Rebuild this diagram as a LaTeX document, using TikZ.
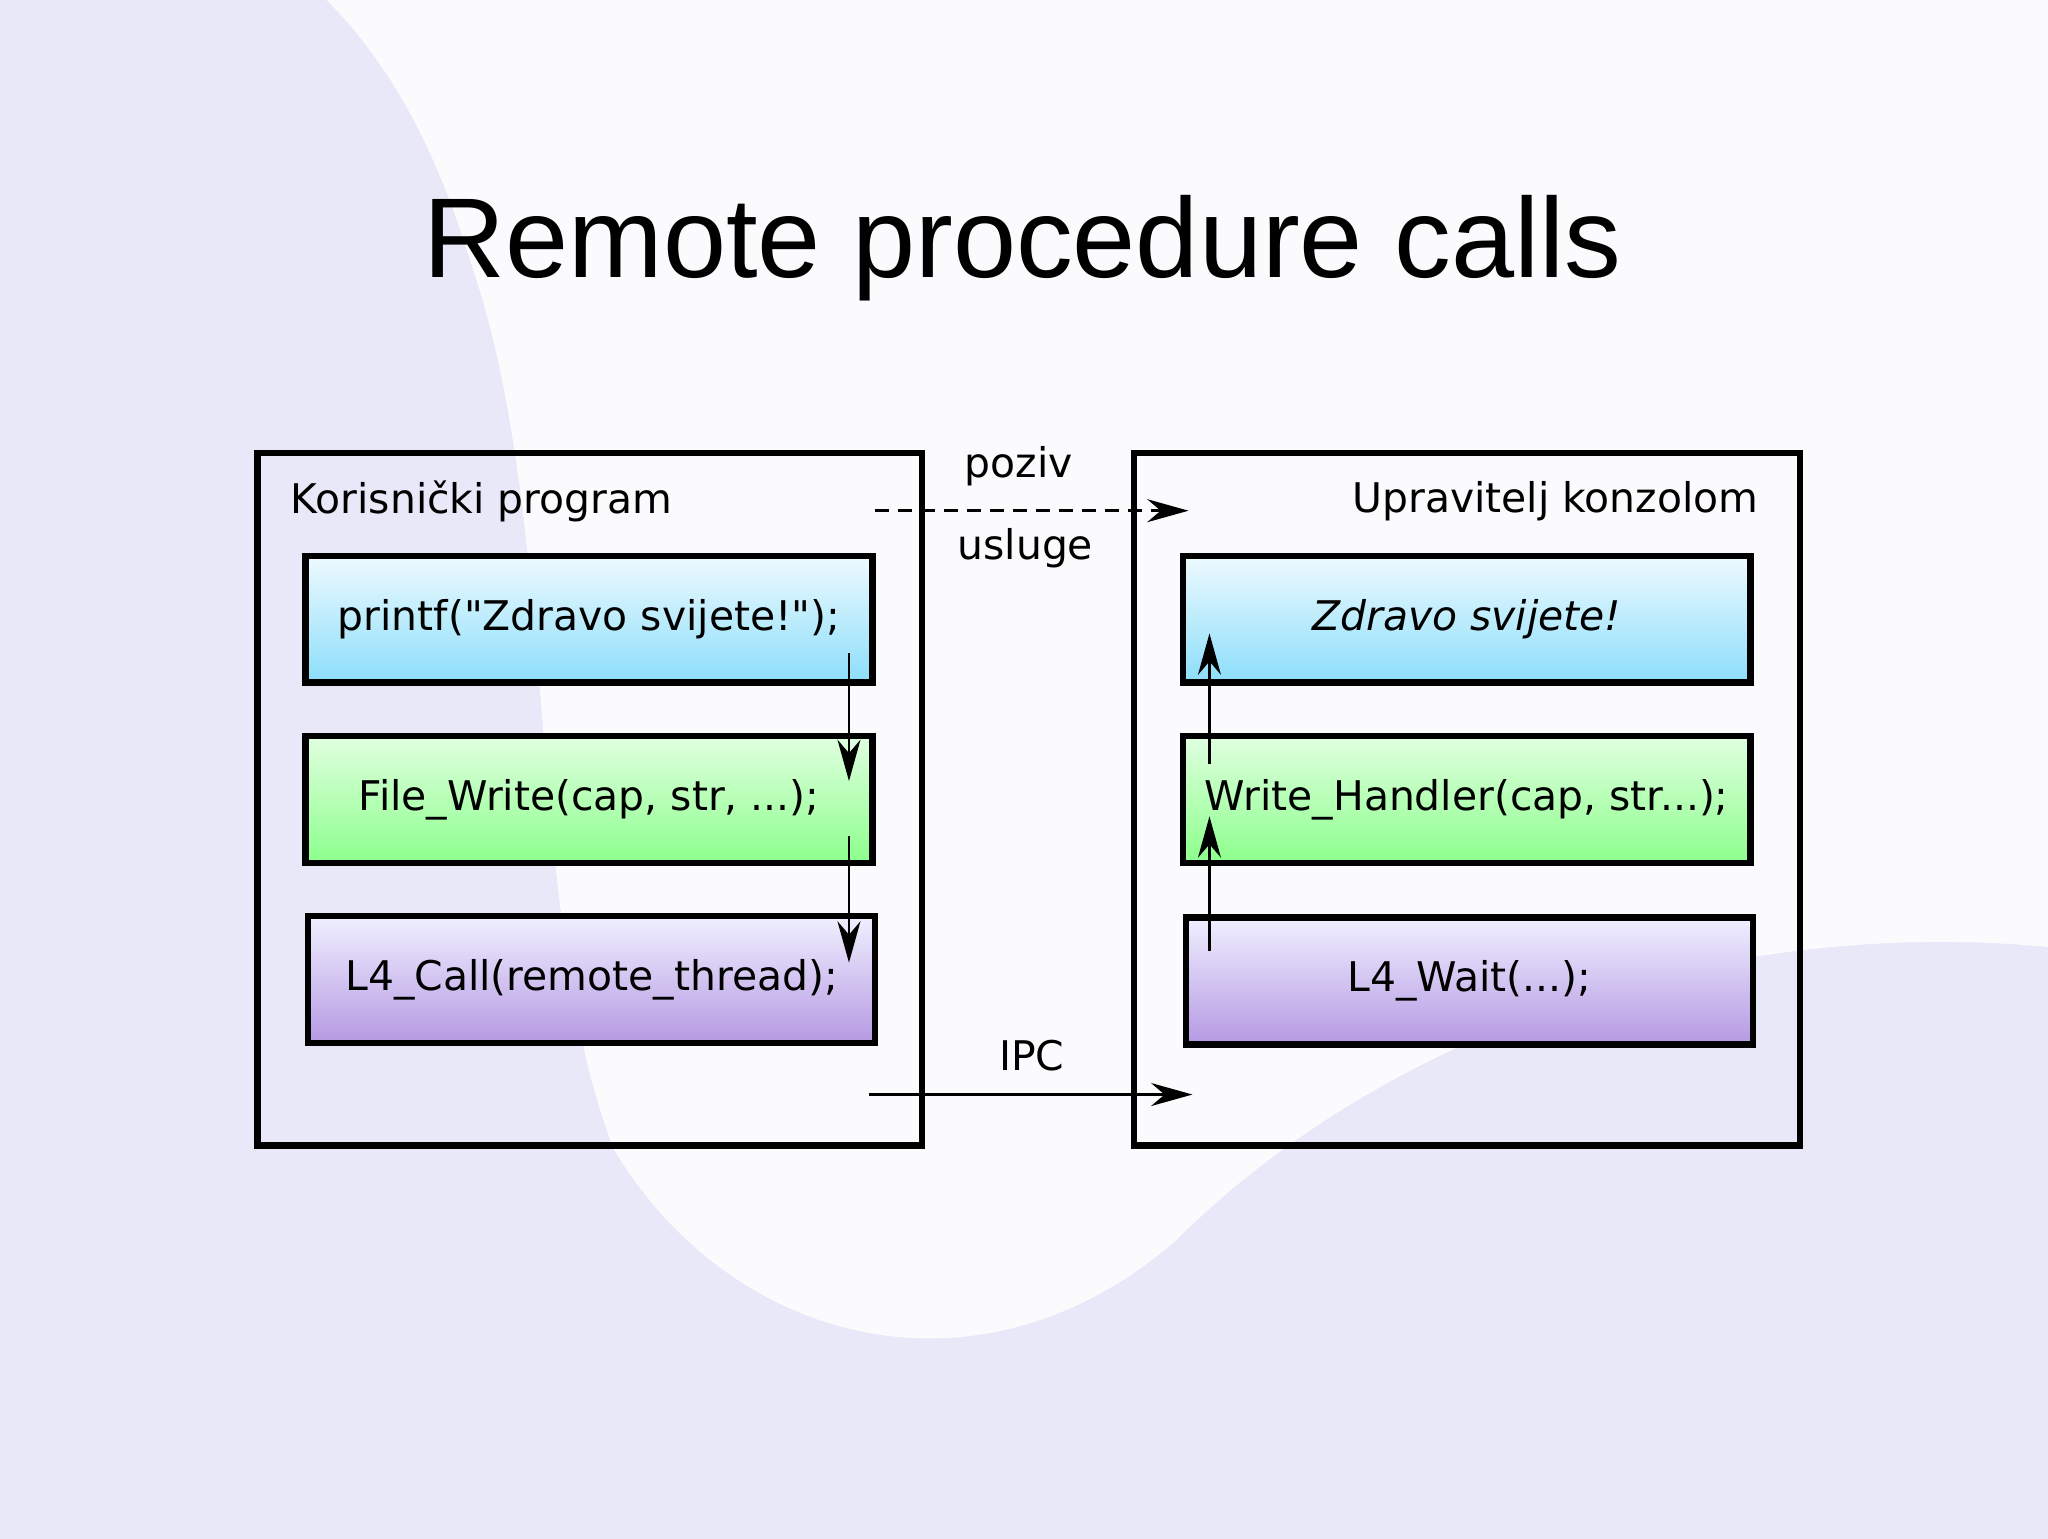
\documentclass[tikz,border=0pt]{standalone}
\usepackage{fontspec}
\setmainfont{DejaVu Sans}
\newfontfamily\titlefont{Liberation Sans}
\usetikzlibrary{arrows.meta}
\definecolor{bglav}{RGB}{232,232,248}
\definecolor{skyb}{RGB}{140,222,250}
\begin{document}
\begin{tikzpicture}[x=0.01cm, y=-0.01cm,
    outer/.style={draw, line width=1.4pt},
    inner/.style={draw, line width=1.4pt, minimum width=4.34cm, minimum height=0.97cm, inner sep=0pt,
                  font=\fontsize{8.9}{10}\selectfont},
    cyanbox/.style={inner, top color=skyb!15!white, bottom color=skyb},
    greenbox/.style={inner, top color=green!12, bottom color=green!45},
    violetbox/.style={inner, top color=blue!6, bottom color=blue!45!violet!40},
    lbl/.style={font=\fontsize{8.9}{10}\selectfont, inner sep=0pt},
    arr/.style={-{Stealth[length=9pt,width=5pt]}, line width=0.6pt}]
\useasboundingbox (0,0) rectangle (1568,1178);
% background
\fill[bglav] (0,0) rectangle (1568,1178);
\fill[white, opacity=0.85] (250,0) -- (1568,0) -- (1568,725)
  .. controls (1300,700) and (1050,800) .. (900,950)
  .. controls (750,1080) and (560,1030) .. (470,880)
  .. controls (400,700) and (430,400) .. (360,200)
  .. controls (330,100) and (290,40) .. (250,0);
% title
\node[font=\titlefont\fontsize{24.7}{28}\selectfont] (title) at (783,190) {Remote procedure calls};
% outer boxes
\draw[outer] (197,347) rectangle (706,877);
\draw[outer] (868,347) rectangle (1378,877);
\node[lbl, anchor=west] (kp) at (222,384) {Korisnički program};
\node[lbl, anchor=east] (uk) at (1347,384) {Upravitelj konzolom};
% left stack
\node[cyanbox] (pf) at (451,474) {printf(\textquotedbl Zdravo svijete!\textquotedbl);};
\node[greenbox] (fw) at (451,612) {File\_Write(cap, str, ...);};
\node[violetbox] (lc) at (453,750) {L4\_Call(remote\_thread);};
% right stack
\node[cyanbox] (zs) at (1123,474) {\itshape Zdravo svijete!};
\node[greenbox] (wh) at (1123,612) {Write\_Handler(cap, str...);};
\node[violetbox] (lw) at (1125,751) {L4\_Wait(...);};
% call-chain arrows
\coordinate (a1) at (650,500); \coordinate (a2) at (650,598);
\coordinate (a3) at (650,640); \coordinate (a4) at (650,737);
\coordinate (b1) at (926,585); \coordinate (b2) at (926,485);
\coordinate (b3) at (926,728); \coordinate (b4) at (926,625);
\draw[arr] (a1) -- (a2);
\draw[arr] (a3) -- (a4);
\draw[arr] (b1) -- (b2);
\draw[arr] (b3) -- (b4);
% service call
\coordinate (d1) at (670,391); \coordinate (d2) at (910,391);
\draw[arr, dash pattern=on 3pt off 2pt] (d1) -- (d2);
\node[lbl] (poziv) at (780,357) {poziv};
\node[lbl] (usluge) at (785,420) {usluge};
% IPC
\coordinate (i1) at (665,838); \coordinate (i2) at (913,838);
\draw[arr] (i1) -- (i2);
\node[lbl] (ipc) at (790,808) {IPC};
\end{tikzpicture}
\end{document}
